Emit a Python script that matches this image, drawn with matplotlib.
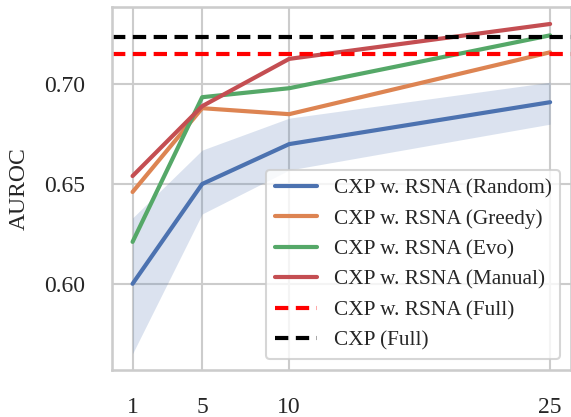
import matplotlib
matplotlib.use("Agg")
import matplotlib.pyplot as plt
import seaborn as sns
import numpy as np

sns.set_theme(style="whitegrid", context="talk")
plt.rcParams["font.family"] = ["Liberation Serif", "DejaVu Serif"]

x_vals = [1, 5, 10, 25]
random_mean = [0.600, 0.650, 0.670, 0.691]
random_low = [0.565, 0.635, 0.657, 0.680]
random_high = [0.633, 0.667, 0.683, 0.701]
greedy = [0.646, 0.688, 0.685, 0.716]
evo = [0.621, 0.6935, 0.698, 0.7245]
manual = [0.654, 0.689, 0.7127, 0.7302]
cxp_rsna_full = 0.7151
cxp_full = 0.7236

labels = ["CXP w. RSNA (Random)", "CXP w. RSNA (Greedy)", "CXP w. RSNA (Evo)",
          "CXP w. RSNA (Manual)", "CXP w. RSNA (Full)", "CXP (Full)"]

pal = sns.color_palette("deep")

fig = plt.figure(figsize=(5.71, 4.17), dpi=100)
ax = fig.add_axes([0.1956, 0.1127, 0.8044, 0.8705])

lw = 3
ax.fill_between(x_vals, random_low, random_high, color=pal[0], alpha=0.2, linewidth=0)
ax.plot(x_vals, random_mean, color=pal[0], lw=lw, label=labels[0])
ax.plot(x_vals, greedy, color=pal[1], lw=lw, label=labels[1])
ax.plot(x_vals, evo, color=pal[2], lw=lw, label=labels[2])
ax.plot(x_vals, manual, color=pal[3], lw=lw, label=labels[3])
ax.axhline(cxp_rsna_full, color="red", lw=lw, ls=(0, (3.2, 1.8)), label=labels[4])
ax.axhline(cxp_full, color="black", lw=lw, ls=(0, (3.2, 1.8)), label=labels[5])

ax.set_xticks(x_vals)
ax.set_xticklabels([str(v) for v in x_vals])
ax.set_yticks([0.60, 0.65, 0.70])
ax.set_yticklabels(["0.60", "0.65", "0.70"])
ax.set_ylim(0.5568, 0.7387)
ax.set_xlim(-0.2, 26.2)
ax.tick_params(axis="both", length=0, pad=19.2, labelsize=17)
ax.set_ylabel("AUROC", fontsize=17, labelpad=10)

ax.legend(loc="lower right", fontsize=15.3)

fig.savefig("out.png", dpi=100)
